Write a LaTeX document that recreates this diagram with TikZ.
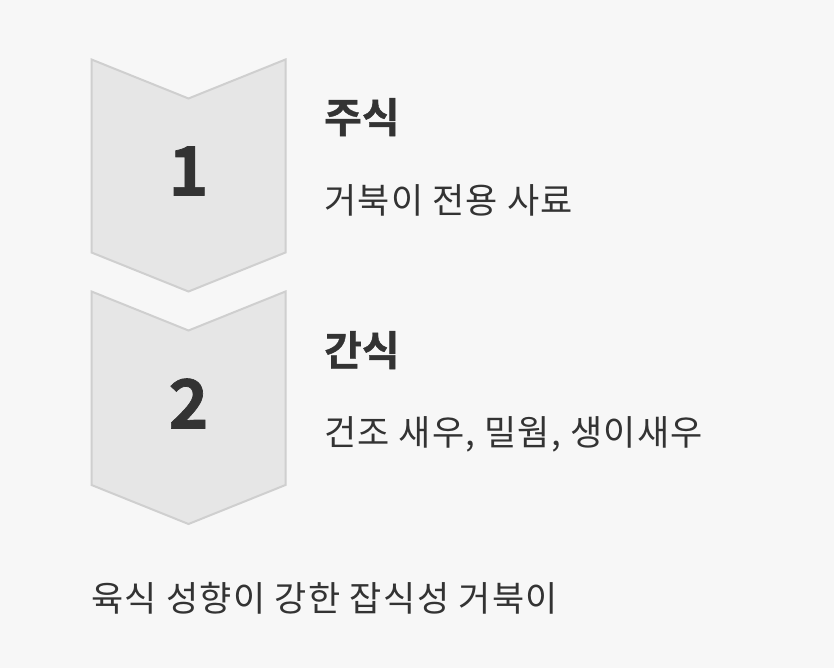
\documentclass[tikz,border=0pt]{standalone}
\usepackage{fontspec}
\setmainfont{Noto Sans CJK KR}
\newfontfamily\subfont[LetterSpace=3.5]{Noto Sans CJK KR}
\newfontfamily\notefont[LetterSpace=4]{Noto Sans CJK KR}
\newfontfamily\heavyfont[FakeBold=1]{Noto Sans CJK KR Bold}
\definecolor{bgc}{HTML}{F7F7F7}
\definecolor{chevfill}{HTML}{E6E6E6}
\definecolor{chevline}{HTML}{CFCFCF}
\definecolor{txt}{HTML}{333333}
\begin{document}
\begin{tikzpicture}[x=1pt,y=-1pt,
  chev/.style={fill=chevfill,draw=chevline,line width=2pt,line join=miter},
  num/.style={text=txt,font=\fontsize{68}{68}\heavyfont,anchor=base,inner sep=0pt},
  ttl/.style={text=txt,font=\fontsize{41}{41}\heavyfont,anchor=base west,inner sep=0pt},
  sub/.style={text=txt,font=\fontsize{35}{35}\subfont,anchor=base west,inner sep=0pt},
  note/.style={text=txt,font=\fontsize{35}{35}\notefont,anchor=base west,inner sep=0pt}]
\fill[bgc] (0,0) rectangle (834,668);
\useasboundingbox (0,0) rectangle (834,668);
\draw[chev] (91.5,59.5) -- (188.5,98.5) -- (285.5,59.5) -- (285.5,252.5) -- (188.5,291.5) -- (91.5,252.5) -- cycle;
\draw[chev] (91.5,291.5) -- (188.5,330.5) -- (285.5,291.5) -- (285.5,485) -- (188.5,524) -- (91.5,485) -- cycle;
\node[num] (n1) at (188.5,195.5) {1};
\node[num] (n2) at (188.5,428.5) {2};
\node[ttl] (t1) at (324,132.5) {주식};
\node[sub] (s1) at (324,214) {거북이 전용 사료};
\node[ttl] (t2) at (324,365.5) {간식};
\node[sub] (s2) at (324,445.5) {건조 새우, 밀웜, 생이새우};
\node[note] (b) at (91,611) {육식 성향이 강한 잡식성 거북이};
\end{tikzpicture}
\end{document}
